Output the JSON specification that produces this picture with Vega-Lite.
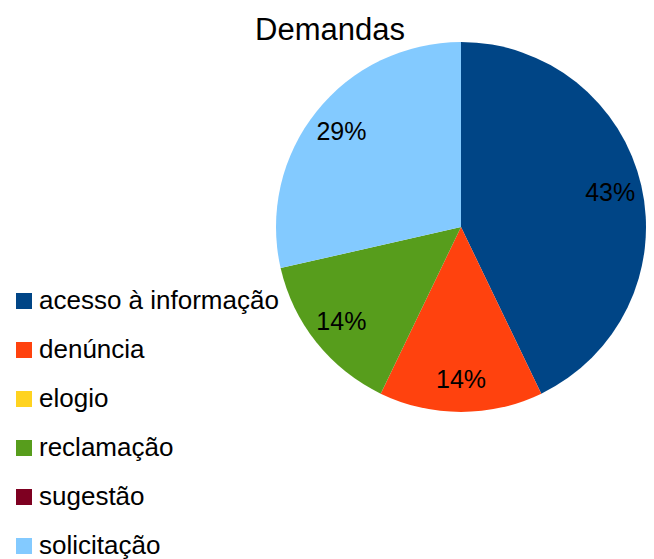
{
  "$schema": "https://vega.github.io/schema/vega-lite/v6.json",
  "width": 370,
  "height": 372,
  "autosize": {"type": "none"},
  "padding": {"left": 276, "top": 41, "right": 8, "bottom": 146},
  "background": "white",
  "title": {
    "text": "Demandas",
    "font": "Liberation Sans",
    "fontSize": 31,
    "fontWeight": "normal",
    "color": "#000000",
    "anchor": "middle",
    "dx": -131,
    "baseline": "alphabetic",
    "offset": -30
  },
  "config": {"view": {"stroke": null}},
  "data": {
    "values": [
      {"tipo": "acesso à informação", "value": 0.4286, "ord": 1},
      {"tipo": "denúncia", "value": 0.1429, "ord": 2},
      {"tipo": "elogio", "value": 0, "ord": 3},
      {"tipo": "reclamação", "value": 0.1429, "ord": 4},
      {"tipo": "sugestão", "value": 0, "ord": 5},
      {"tipo": "solicitação", "value": 0.2857, "ord": 6}
    ]
  },
  "encoding": {
    "theta": {"field": "value", "type": "quantitative", "stack": true},
    "order": {"field": "ord", "type": "quantitative"}
  },
  "layer": [
    {
      "mark": {"type": "arc", "stroke": null},
      "encoding": {
        "color": {
          "field": "tipo",
          "type": "nominal",
          "scale": {
            "domain": ["acesso à informação", "denúncia", "elogio", "reclamação", "sugestão", "solicitação"],
            "range": ["#004586", "#ff420e", "#ffd320", "#579d1c", "#7e0021", "#83caff"]
          },
          "legend": {
            "orient": "none",
            "legendX": -265,
            "legendY": 247,
            "title": null,
            "padding": 0,
            "labelFont": "Liberation Sans",
            "labelFontSize": 26,
            "labelLimit": 400,
            "labelColor": "#000000",
            "symbolType": "square",
            "symbolSize": 256,
            "symbolStrokeWidth": 0,
            "rowPadding": 23,
            "labelOffset": 2
          }
        }
      }
    },
    {
      "transform": [{"filter": "datum.value > 0"}],
      "mark": {
        "type": "text",
        "radius": 153,
        "font": "Liberation Sans",
        "fontSize": 25,
        "color": "#000000",
        "baseline": "middle",
        "align": "center"
      },
      "encoding": {
        "text": {"field": "value", "type": "quantitative", "format": ".0%"}
      }
    }
  ]
}
